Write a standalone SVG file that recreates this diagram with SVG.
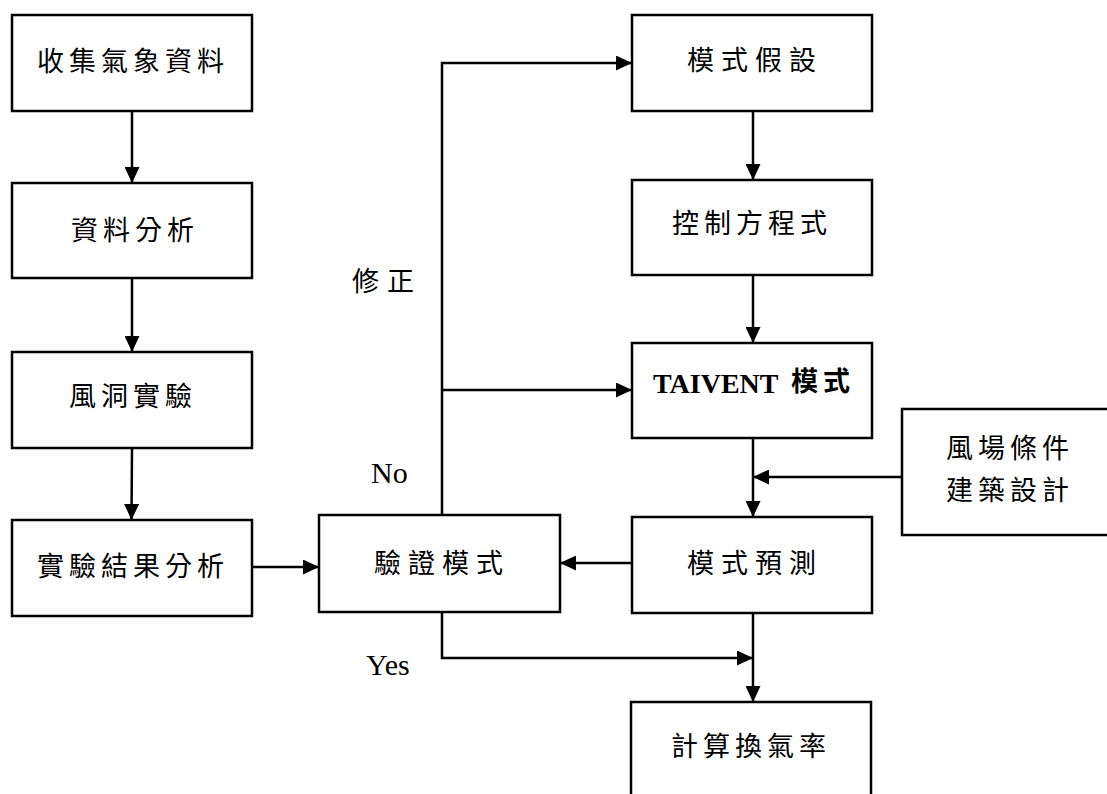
<svg xmlns="http://www.w3.org/2000/svg" width="1107" height="794" viewBox="0 0 1107 794">
<style>
.box{fill:#fff;stroke:#000;stroke-width:2.5}
.t{font-family:"Noto Sans CJK TC","Noto Sans CJK SC",sans-serif;font-size:27px;letter-spacing:5px;fill:#000}
.l{font-family:"Liberation Serif","Noto Sans CJK TC",serif;font-size:30px;fill:#000}
.c{fill:none;stroke:#000;stroke-width:2.5}
</style>
<defs>
<marker id="ah" markerUnits="userSpaceOnUse" markerWidth="16" markerHeight="15" refX="16" refY="7.5" orient="auto">
<path d="M0,0 L16,7.5 L0,15 z" fill="#000"/>
</marker>
</defs>
<g id="connectors">
<path class="c" d="M132,111 V183" marker-end="url(#ah)"/>
<path class="c" d="M132,278 V352" marker-end="url(#ah)"/>
<path class="c" d="M132,448 L131.5,520" marker-end="url(#ah)"/>
<path class="c" d="M252,567 H319" marker-end="url(#ah)"/>
<path class="c" d="M753,111 V180" marker-end="url(#ah)"/>
<path class="c" d="M753,275 V343" marker-end="url(#ah)"/>
<path class="c" d="M753,438 V517" marker-end="url(#ah)"/>
<path class="c" d="M902,477 H753" marker-end="url(#ah)"/>
<path class="c" d="M632,563 H560" marker-end="url(#ah)"/>
<path class="c" d="M442,515 V63 H632" marker-end="url(#ah)"/>
<path class="c" d="M442,390 H632" marker-end="url(#ah)"/>
<path class="c" d="M442,612 V658 H753" marker-end="url(#ah)"/>
<path class="c" d="M753,613 V702" marker-end="url(#ah)"/>
</g>
<g id="n1"><rect class="box" x="12" y="15" width="240" height="96"/><text class="t" x="37" y="71">收集氣象資料</text></g>
<g id="n2"><rect class="box" x="12" y="183" width="240" height="95"/><text class="t" x="71" y="240">資料分析</text></g>
<g id="n3"><rect class="box" x="12" y="352" width="240" height="96"/><text class="t" x="69" y="406">風洞實驗</text></g>
<g id="n4"><rect class="box" x="12" y="520" width="240" height="96"/><text class="t" x="37" y="576">實驗結果分析</text></g>
<g id="n5"><rect class="box" x="319" y="515" width="241" height="97"/><text class="t" x="374" y="573" style="letter-spacing:7px">驗證模式</text></g>
<g id="n6"><rect class="box" x="632" y="15" width="240" height="96"/><text class="t" x="687" y="70" style="letter-spacing:7px">模式假設</text></g>
<g id="n7"><rect class="box" x="632" y="180" width="240" height="95"/><text class="t" x="672" y="233">控制方程式</text></g>
<g id="n8"><rect class="box" x="632" y="343" width="240" height="95"/><text x="653" y="393" style="font-family:'Liberation Serif',serif;font-size:28px;font-weight:bold">TAIVENT</text><text class="t" x="791" y="391" style="font-weight:bold">模式</text></g>
<g id="n9"><rect class="box" x="632" y="517" width="240" height="96"/><text class="t" x="687" y="573" style="letter-spacing:7px">模式預測</text></g>
<g id="n10"><rect class="box" x="902" y="409" width="215" height="126"/><text class="t" x="946" y="458">風場條件</text><text class="t" x="946" y="500">建築設計</text></g>
<g id="n11"><rect class="box" x="631" y="702" width="240" height="110"/><text class="t" x="671" y="756">計算換氣率</text></g>
<text class="t" x="352" y="291" style="letter-spacing:8px">修正</text>
<text class="l" x="371" y="483">No</text>
<text class="l" x="366" y="675">Yes</text>
</svg>
